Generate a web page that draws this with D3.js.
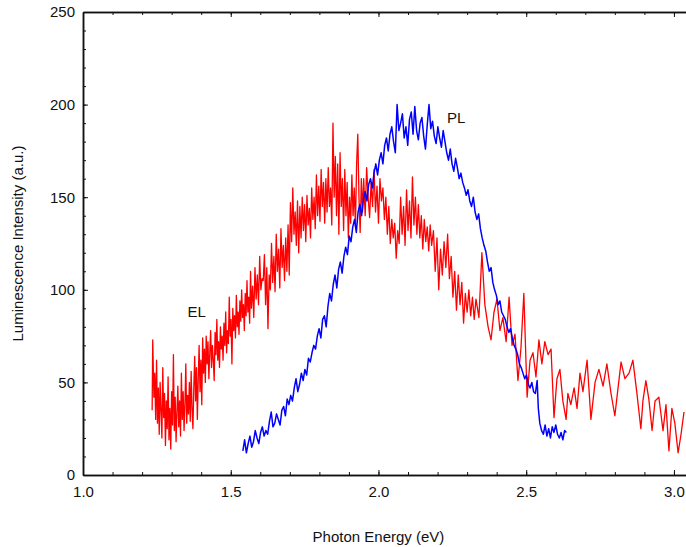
<!DOCTYPE html>
<html><head><meta charset="utf-8">
<script src="https://cdn.jsdelivr.net/npm/d3@7"></script>
<style>
body{margin:0;background:#fff}
text{font-family:"Liberation Sans",Arial,sans-serif;fill:#111}
</style>
</head><body>
<svg id="chart" width="686" height="547"></svg>
<script>
// ---- data ----
const elEnergy = [
1.234,1.236,1.240,1.243,1.246,1.249,1.252,1.255,1.258,1.261,1.264,1.267,1.270,1.273,1.276,1.279,1.282,1.285,1.288,1.291,1.294,1.297,1.300,1.303,1.306,1.309,1.312,1.315,1.318,1.321,1.324,1.327,1.330,1.333,1.336,1.339,1.342,1.345,1.348,1.351,1.354,1.357,1.360,1.363,1.366,1.369,1.372,1.375,1.378,1.381,1.384,1.387,1.390,1.393,1.396,1.399,1.402,1.405,
1.408,1.411,1.414,1.417,1.420,1.423,1.426,1.429,1.432,1.435,1.438,1.441,1.444,1.447,1.450,1.453,1.456,1.459,1.462,1.465,1.468,1.471,1.474,1.477,1.480,1.483,1.486,1.489,1.492,1.495,1.498,1.501,1.504,1.507,1.510,1.513,1.516,1.519,1.522,1.525,1.528,1.531,1.534,1.537,1.540,1.543,1.546,1.549,1.552,1.555,1.558,1.561,1.564,1.567,1.570,1.574,1.578,1.582,1.586,1.590,1.594,1.598,1.602,1.606,
1.610,1.614,1.618,1.622,1.626,1.630,1.634,1.638,1.642,1.646,1.650,1.654,1.658,1.662,1.666,1.670,1.674,1.678,1.682,1.686,1.690,1.694,1.698,1.702,1.706,1.710,1.714,1.718,1.722,1.726,1.730,1.734,1.738,1.742,1.746,1.750,1.754,1.758,1.762,1.766,1.770,1.774,1.778,1.782,1.786,1.790,1.794,1.798,1.802,1.806,1.810,1.814,1.818,1.822,1.826,1.830,1.834,1.838,1.842,1.846,1.850,1.854,1.858,1.862,1.866,1.870,1.874,1.878,1.882,1.886,1.890,1.894,1.898,1.902,1.906,1.910,1.914,1.918,1.922,1.926,1.930,1.934,1.938,1.942,1.946,
1.950,1.955,1.960,1.965,1.970,1.975,1.980,1.985,1.990,1.995,2.000,2.005,2.010,2.015,2.020,2.025,2.030,2.035,2.040,2.045,2.050,2.055,2.060,2.065,2.070,2.075,2.080,2.085,2.090,2.095,2.100,2.105,2.110,2.115,2.120,2.125,2.130,2.135,2.140,2.145,2.150,2.155,2.160,2.165,2.170,2.175,2.180,2.186,2.192,2.198,2.204,2.210,2.216,2.222,2.228,2.234,2.240,2.246,2.252,2.258,2.264,2.270,2.276,2.282,2.288,2.294,2.300,2.306,2.312,2.318,2.324,
2.330,2.340,2.350,2.360,2.371,2.381,2.391,2.401,2.411,2.421,2.432,2.442,2.452,2.462,2.472,2.482,2.492,2.503,
2.513,2.523,2.533,2.543,2.553,2.563,2.574,2.584,2.594,2.604,2.614,2.624,2.635,2.641,2.651,2.662,2.672,2.682,2.692,2.706,2.719,2.733,2.746,2.760,2.773,2.787,2.800,2.810,2.821,2.834,2.848,2.861,2.874,2.888,2.895,2.905,2.915,2.926,2.936,2.949,2.963,2.973,2.983,2.993,3.003,3.014,3.024,3.034,3.044
];
const elIntensity = [
35,73,42,55,30,62,28,47,22,50,35,20,58,31,44,16,40,25,53,19,36,14,45,27,65,24,42,18,34,48,26,40,21,55,30,45,24,38,60,28,43,33,50,29,56,36,25,47,64,40,58,30,52,70,45,62,38,74,
55,68,50,75,60,72,52,66,78,58,70,62,51,77,65,84,62,72,58,80,68,75,62,82,70,88,66,78,71,96,75,84,60,90,78,86,74,97,80,88,76,94,83,100,85,92,78,98,86,105,88,96,82,110,90,102,85,112,95,108,92,118,100,106,
105,119,92,112,79,108,100,125,104,118,99,130,110,122,101,133,112,124,105,128,110,135,108,147,126,155,130,142,124,148,120,145,128,150,132,146,126,151,135,144,128,155,138,150,133,162,140,156,137,165,145,158,136,160,142,166,145,155,135,190,150,172,140,168,130,174,145,160,132,165,140,158,128,150,136,162,140,155,134,168,184,150,131,160,142,
160,140,166,150,139,158,145,165,142,156,136,160,148,155,138,150,130,145,125,138,128,136,117,132,125,150,130,145,124,154,132,148,128,161,135,150,130,146,128,140,122,138,126,134,121,135,124,132,110,128,100,122,108,126,112,130,106,118,96,110,89,108,92,104,82,98,88,100,86,96,84,
95,85,120,92,80,73,88,95,78,85,72,96,70,76,51,68,98,42,
62,66,53,73,60,72,65,68,31,52,57,40,30,44,38,47,36,55,45,62,30,50,57,48,60,44,32,46,61,52,55,62,45,25,40,51,41,24,40,42,24,38,13,36,28,12,22,34
];
const plEnergy = [
1.541,1.547,1.553,1.559,1.565,1.571,1.577,1.583,1.589,1.595,1.601,1.607,1.613,1.619,1.625,1.631,1.637,1.643,1.649,1.655,1.661,1.667,1.673,1.679,1.685,1.691,1.697,1.703,1.709,1.715,1.721,1.727,1.733,1.739,1.745,1.751,1.757,1.763,1.769,1.775,1.781,1.787,1.793,1.799,1.805,1.811,1.817,1.823,1.829,1.835,1.841,1.847,1.853,1.859,1.865,1.871,1.877,1.883,1.889,1.895,1.901,1.907,1.913,1.919,1.925,1.931,1.937,1.943,1.949,1.955,1.961,1.967,1.973,1.979,1.985,1.991,1.997,
2.003,2.009,2.015,2.021,2.027,2.033,2.039,2.045,2.051,2.057,2.063,2.069,2.075,2.081,2.087,2.093,2.099,2.105,2.111,2.117,2.123,2.129,2.135,2.141,2.147,2.153,2.159,2.165,2.171,2.177,2.183,2.189,2.195,2.201,2.207,2.213,2.219,2.225,2.231,2.237,2.243,2.249,2.255,2.261,2.267,2.273,2.279,2.285,2.291,2.297,2.303,2.309,2.315,2.321,2.327,2.333,2.339,2.345,2.351,2.357,2.363,2.369,2.375,2.381,2.387,2.393,2.399,2.405,2.411,2.417,2.423,2.429,2.435,2.441,2.447,2.453,2.459,2.465,2.471,2.477,2.483,2.489,2.495,2.501,2.507,2.513,2.519,2.525,2.531,2.537,2.541,2.546,2.552,2.558,2.564,2.570,2.576,2.582,2.588,2.594,2.600,2.606,2.612,2.618,2.624,2.630,2.636
];
const plIntensity = [
13,19,12,17,21,15,18,24,20,17,23,26,21,24,
22,29,34,26,28,33,30,27,35,37,32,41,38,
43,40,47,52,45,49,55,51,57,54,63,
61,66,70,68,75,79,74,84,86,80,91,
98,94,103,108,101,111,115,109,118,123,119,
129,126,134,138,131,142,146,140,149,153,148,
157,160,155,163,168,162,
170,174,168,178,182,175,184,188,180,174,
200,186,190,195,182,188,178,192,196,184,
199,186,181,190,193,183,176,189,200,187,
191,183,179,188,182,177,186,180,174,170,
176,168,164,171,166,160,163,158,155,151,
154,148,145,150,142,138,141,133,128,124,
121,115,110,112,104,100,97,92,94,88,
86,84,80,77,79,74,70,68,65,60,
58,55,52,54,49,47,50,45,44,51,
36,28,
24,22,27,21,25,20,26,23,27,22,20,23,19,24,23
];
const xMajor = [1.0,1.5,2.0,2.5,3.0];
const xMajorLabels = ["1.0","1.5","2.0","2.5","3.0"];
const yMajor = [0,50,100,150,200,250];

// ---- chart ----
const svg = d3.select("#chart");
const x = d3.scaleLinear().domain([1.0,3.1]).range([83,703.5]);
const y = d3.scaleLinear().domain([0,250]).range([475,12]);
const xMinor = d3.range(10,32).map(d=>d/10);
const yMinor = d3.range(0,251,10);

function styleAxis(g){
  g.selectAll("path.domain").attr("stroke","#111").attr("stroke-width",1.5);
  g.selectAll(".tick line").attr("stroke","#111").attr("stroke-width",1);
  g.selectAll(".tick text").style("font-size","15px").attr("fill","#111");
}
// bottom
svg.append("g").attr("transform",`translate(0,${y(0)})`)
  .call(d3.axisBottom(x).tickValues(xMinor).tickFormat("").tickSize(-3).tickSizeOuter(0)).call(styleAxis);
svg.append("g").attr("transform",`translate(0,${y(0)})`)
  .call(d3.axisBottom(x).tickValues(xMajor).tickFormat((d,i)=>xMajorLabels[i]).tickSize(-5).tickPadding(11).tickSizeOuter(0)).call(styleAxis);
// top
svg.append("g").attr("transform",`translate(0,${y(250)})`)
  .call(d3.axisTop(x).tickValues(xMinor).tickFormat("").tickSize(-3).tickSizeOuter(0)).call(styleAxis);
svg.append("g").attr("transform",`translate(0,${y(250)})`)
  .call(d3.axisTop(x).tickValues(xMajor).tickFormat("").tickSize(-5).tickSizeOuter(0)).call(styleAxis);
// left
svg.append("g").attr("transform",`translate(${x(1.0)},0)`)
  .call(d3.axisLeft(y).tickValues(yMinor).tickFormat("").tickSize(-3).tickSizeOuter(0)).call(styleAxis);
svg.append("g").attr("transform",`translate(${x(1.0)},0)`)
  .call(d3.axisLeft(y).tickValues(yMajor).tickFormat(d3.format("d")).tickSize(-5).tickPadding(8).tickSizeOuter(0)).call(styleAxis);
// right
svg.append("g").attr("transform",`translate(${x(3.1)},0)`)
  .call(d3.axisRight(y).tickValues(yMajor).tickFormat("").tickSize(-5).tickSizeOuter(0)).call(styleAxis);

const line = d3.line().x(d=>x(d[0])).y(d=>y(d[1]));
svg.append("path").datum(elEnergy.map((e,i)=>[e,elIntensity[i]]))
  .attr("d",line).attr("fill","none").attr("stroke","#ff0000").attr("stroke-width",1.3).attr("stroke-linejoin","round");
svg.append("path").datum(plEnergy.map((e,i)=>[e,plIntensity[i]]))
  .attr("d",line).attr("fill","none").attr("stroke","#0000ff").attr("stroke-width",1.5).attr("stroke-linejoin","round");

svg.append("text").attr("x",x(1.385)).attr("y",y(88)).attr("dy","0.35em").attr("text-anchor","middle").style("font-size","15px").text("EL");
svg.append("text").attr("x",x(2.263)).attr("y",y(193)).attr("dy","0.35em").attr("text-anchor","middle").style("font-size","15px").text("PL");

svg.append("text").attr("x",x(2.0)).attr("y",537).attr("dy","0.35em").attr("text-anchor","middle").style("font-size","15px").text("Photon Energy (eV)");
svg.append("text").attr("transform",`translate(18,${(y(0)+y(250))/2}) rotate(-90)`).attr("dy","0.35em").attr("text-anchor","middle").style("font-size","15px").text("Luminescence Intensity (a.u.)");
</script>
</body></html>
